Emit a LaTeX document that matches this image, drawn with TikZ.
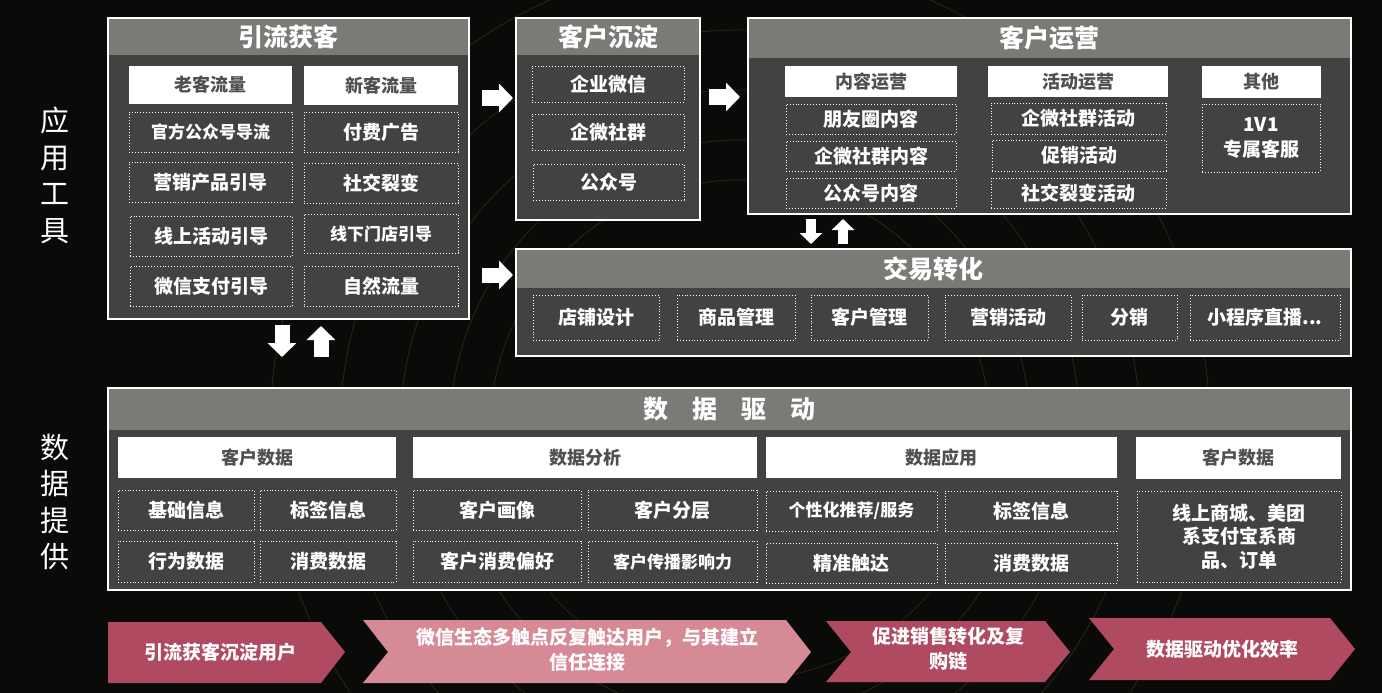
\documentclass[tikz,border=0pt]{standalone}
\usepackage{fontspec}
\setmainfont{Noto Sans CJK SC}
\usetikzlibrary{arrows.meta}
\definecolor{bgc}{HTML}{0A0A08}
\definecolor{bodyc}{HTML}{424240}
\definecolor{hdrc}{HTML}{7A7A77}
\definecolor{subtxt}{HTML}{505050}
\definecolor{chevA}{HTML}{B04A60}
\definecolor{chevB}{HTML}{D68A96}
\definecolor{arcc}{HTML}{2B261A}
\newcommand\bx[7]{\node[#1, minimum width={#5-#3}, minimum height={#6-#4}] (#2) at ({(#3+#5)/2},{(#4+#6)/2}) {#7};}
\tikzset{
  panel/.style={fill=bodyc, draw=white, line width=1.8pt, inner sep=0pt, outer sep=0pt},
  hdrband/.style={fill=hdrc, inner sep=0pt, text=white, font=\fontsize{25}{28}\selectfont\bfseries},
  subhead/.style={fill=white, inner sep=0pt, text=subtxt, font=\fontsize{18}{20}\selectfont\bfseries},
  dbox/.style={draw=white!92, dotted, line width=0.9pt, inner sep=0pt, text=white, align=center,
    font=\fontsize{19}{22}\selectfont\bfseries},
  small/.style={font=\fontsize{17}{20}\selectfont\bfseries},
  blkarrow/.style={white, line width=15pt, -{Triangle[width=28pt,length=14pt]}},
  blkarrowsm/.style={white, line width=10pt, -{Triangle[width=22pt,length=11pt]}},
  sidelabel/.style={text=white, align=center, font=\fontsize{29}{36.5}\selectfont},
  chevtext/.style={text=white, align=center, font=\fontsize{19}{25.5}\selectfont\bfseries},
  arcline/.style={draw=arcc, line width=0.8pt}
}
\begin{document}
\begin{tikzpicture}[x=1pt,y=-1pt]
\useasboundingbox (0,0) rectangle (1382,693);
\fill[bgc] (0,0) rectangle (1382,693);
% faint background arcs
\foreach \r in {250,290,340,400,470}{\draw[arcline] (740,430) circle (\r);}
% side labels
\node[sidelabel] (lblA) at (55,175.5) {应\\用\\工\\具};
\node[sidelabel] (lblB) at (55,502) {数\\据\\提\\供};

% Panel 1
\bx{panel}{p1}{108}{18}{469}{319}{}
\bx{hdrband}{p1h}{109}{19}{468}{55}{引流获客}
\bx{subhead}{p1a}{129}{66}{292}{104}{老客流量}
\bx{subhead}{p1b}{304}{66}{458}{105}{新客流量}
\bx{dbox,small}{p1a1}{129}{112}{292}{152}{官方公众号导流}
\bx{dbox}{p1a2}{129}{162}{292}{202}{营销产品引导}
\bx{dbox}{p1a3}{130}{216}{292}{256}{线上活动引导}
\bx{dbox}{p1a4}{130}{266}{292}{306}{微信支付引导}
\bx{dbox}{p1b1}{304}{112}{458}{152}{付费广告}
\bx{dbox}{p1b2}{304}{163}{458}{203}{社交裂变}
\bx{dbox,small}{p1b3}{304}{214}{458}{253}{线下门店引导}
\bx{dbox}{p1b4}{304}{266}{458}{306}{自然流量}

% Panel 2
\bx{panel}{p2}{516}{18}{700}{220}{}
\bx{hdrband}{p2h}{517}{19}{699}{55}{客户沉淀}
\bx{dbox}{p2a}{532}{66}{684}{102}{企业微信}
\bx{dbox}{p2b}{532}{114}{684}{150}{企微社群}
\bx{dbox}{p2c}{533}{164}{684}{200}{公众号}

% Panel 3
\bx{panel}{p3}{748}{18}{1351}{214}{}
\bx{hdrband}{p3h}{749}{19}{1350}{58}{客户运营}
\bx{subhead}{p3a}{785}{66}{957}{97}{内容运营}
\bx{subhead}{p3b}{988}{66}{1168}{97}{活动运营}
\bx{subhead}{p3c}{1202}{66}{1321}{98}{其他}
\bx{dbox}{p3a1}{786}{104}{956}{134}{朋友圈内容}
\bx{dbox}{p3a2}{786}{141}{956}{171}{企微社群内容}
\bx{dbox}{p3a3}{786}{178}{956}{208}{公众号内容}
\bx{dbox}{p3b1}{991}{103}{1166}{134}{企微社群活动}
\bx{dbox}{p3b2}{992}{140}{1166}{171}{促销活动}
\bx{dbox}{p3b3}{991}{178}{1166}{208}{社交裂变活动}
\bx{dbox,font=\fontsize{19}{25}\selectfont\bfseries}{p3c1}{1202}{104}{1320}{172}{1V1\\专属客服}

% Panel 4
\bx{panel}{p4}{516}{249}{1351}{356}{}
\bx{hdrband}{p4h}{517}{250}{1350}{288}{交易转化}
\bx{dbox}{p4a}{533}{295}{659}{340}{店铺设计}
\bx{dbox}{p4b}{677}{295}{795}{340}{商品管理}
\bx{dbox}{p4c}{811}{295}{928}{340}{客户管理}
\bx{dbox}{p4d}{945}{295}{1071}{340}{营销活动}
\bx{dbox}{p4e}{1082}{295}{1177}{340}{分销}
\bx{dbox}{p4f}{1190}{295}{1340}{340}{小程序直播...}

% Panel 5
\bx{panel}{p5}{108}{388}{1351}{590}{}
\bx{hdrband}{p5h}{109}{389}{1350}{430}{数\hspace{0.95em}据\hspace{0.95em}驱\hspace{0.95em}动}
\bx{subhead}{p5a}{118}{437}{396}{478}{客户数据}
\bx{subhead}{p5b}{413}{437}{757}{478}{数据分析}
\bx{subhead}{p5c}{766}{437}{1117}{478}{数据应用}
\bx{subhead}{p5d}{1136}{437}{1341}{479}{客户数据}
\bx{dbox}{p5a1}{118}{490}{254}{530}{基础信息}
\bx{dbox}{p5a2}{260}{490}{396}{530}{标签信息}
\bx{dbox}{p5a3}{118}{541}{254}{582}{行为数据}
\bx{dbox}{p5a4}{260}{541}{396}{582}{消费数据}
\bx{dbox}{p5b1}{413}{490}{581}{530}{客户画像}
\bx{dbox}{p5b2}{588}{490}{757}{530}{客户分层}
\bx{dbox}{p5b3}{413}{541}{581}{582}{客户消费偏好}
\bx{dbox,small}{p5b4}{588}{541}{757}{582}{客户传播影响力}
\bx{dbox,small}{p5c1}{766}{491}{937}{531}{个性化推荐/服务}
\bx{dbox}{p5c2}{945}{491}{1117}{531}{标签信息}
\bx{dbox}{p5c3}{766}{543}{937}{583}{精准触达}
\bx{dbox}{p5c4}{945}{543}{1117}{583}{消费数据}
\bx{dbox,font=\fontsize{19}{23.5}\selectfont\bfseries}{p5d1}{1137}{491}{1341}{582}{线上商城、美团\\系支付宝系商\\品、订单}

% Block arrows
\coordinate (a1s) at (482,98);  \coordinate (a1e) at (513,98);
\coordinate (a2s) at (709,97);  \coordinate (a2e) at (740,97);
\coordinate (a3s) at (482,275); \coordinate (a3e) at (513,275);
\coordinate (a4s) at (282,325); \coordinate (a4e) at (282,357);
\coordinate (a5s) at (321,357); \coordinate (a5e) at (321,326);
\coordinate (a6s) at (811,219); \coordinate (a6e) at (811,244);
\coordinate (a7s) at (843,244); \coordinate (a7e) at (843,219);
\draw[blkarrow] (a1s) -- (a1e);
\draw[blkarrow] (a2s) -- (a2e);
\draw[blkarrow] (a3s) -- (a3e);
\draw[blkarrow] (a4s) -- (a4e);
\draw[blkarrow] (a5s) -- (a5e);
\draw[blkarrowsm] (a6s) -- (a6e);
\draw[blkarrowsm] (a7s) -- (a7e);

% Bottom chevrons
\fill[chevA] (108,622) -- (321,622) -- (345,652) -- (321,683) -- (108,683) -- cycle;
\fill[chevB] (363,620) -- (786,620) -- (811,652) -- (786,683) -- (363,683) -- (388,652) -- cycle;
\fill[chevA] (826,621) -- (1045,621) -- (1070,652) -- (1045,682) -- (826,682) -- (851,652) -- cycle;
\fill[chevA] (1089,618) -- (1330,618) -- (1355,649) -- (1330,680) -- (1089,680) -- (1114,649) -- cycle;
\node[chevtext] (c1) at (220,652) {引流获客沉淀用户};
\node[chevtext] (c2) at (587,650) {微信生态多触点反复触达用户，与其建立\\信任连接};
\node[chevtext] (c3) at (948,649) {促进销售转化及复\\购链};
\node[chevtext] (c4) at (1222,649) {数据驱动优化效率};
\end{tikzpicture}
\end{document}
